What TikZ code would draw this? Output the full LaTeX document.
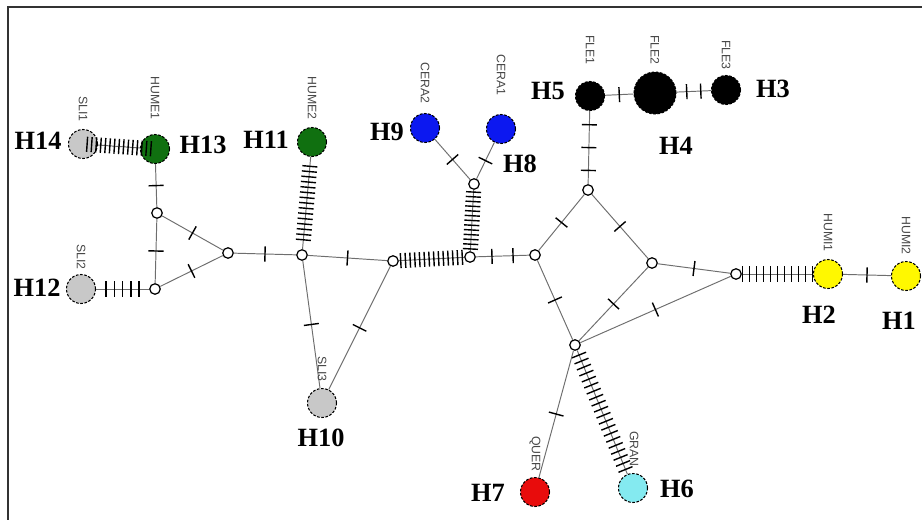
\documentclass[tikz,border=0pt]{standalone}
\usepackage{fontspec}
\setmainfont{Liberation Serif}
\setsansfont{Liberation Sans}
\usetikzlibrary{decorations.markings}
\definecolor{sligrey}{RGB}{200,200,200}
\definecolor{humegreen}{RGB}{16,112,16}
\definecolor{crablue}{RGB}{12,24,240}
\definecolor{fleblack}{RGB}{0,0,0}
\definecolor{humiyellow}{RGB}{255,248,0}
\definecolor{quered}{RGB}{232,12,12}
\definecolor{grancyan}{RGB}{132,234,240}
\definecolor{linkgrey}{RGB}{110,110,110}
\definecolor{popgrey}{RGB}{70,70,70}
\begin{document}
\begin{tikzpicture}[x=0.02cm,y=0.02cm,
    hap/.style={circle,draw=black,dash pattern=on 1.5pt off 0.9pt,line width=0.6pt,minimum size=0.58cm},
    mv/.style={circle,draw=black,fill=white,line width=0.7pt,minimum size=0.21cm},
    hname/.style={font=\fontsize{15}{15}\selectfont\bfseries},
    pop/.style={rotate=-90,anchor=east,font=\sffamily\fontsize{7}{7}\selectfont,text=popgrey},
    link/.style={draw=linkgrey,line width=0.55pt},
    tickmark/.style={draw=black,line width=0.8pt},
    mut/.style 2 args={postaction={decorate,decoration={markings,mark=at position 0.5 with {
        \foreach \k in {1,...,#1} \draw[tickmark] ({(\k-(#1+1)/2)*#2},-4.3pt) -- ++(0,8.6pt);}}}},
    one/.style={mut={1}{0pt}}]
    \tikzstyle{every node}+=[inner sep=0pt]
    \useasboundingbox (0,0) rectangle (922,-520);
    \draw [line width=0.8pt,draw=black!80] (8,-520) -- (8,-7) -- (922,-7);
    % haplotypes
    \node [hap,fill=humiyellow] (h1) at (906,-276) {};
    \node [hap,fill=humiyellow] (h2) at (828,-274) {};
    \node [hap,fill=fleblack] (h3) at (726,-90) {};
    \node [hap,fill=fleblack,minimum size=0.84cm] (h4) at (655,-93) {};
    \node [hap,fill=fleblack] (h5) at (590,-96) {};
    \node [hap,fill=grancyan] (h6) at (633,-488) {};
    \node [hap,fill=quered] (h7) at (535,-492) {};
    \node [hap,fill=crablue] (h8) at (501,-129) {};
    \node [hap,fill=crablue] (h9) at (425,-128) {};
    \node [hap,fill=sligrey] (h10) at (322,-403) {};
    \node [hap,fill=humegreen] (h11) at (312,-142) {};
    \node [hap,fill=sligrey] (h12) at (81,-289) {};
    \node [hap,fill=humegreen] (h13) at (155,-149) {};
    \node [hap,fill=sligrey] (h14) at (83,-144) {};
    % median vectors
    \node [mv] (m1) at (157,-213) {};
    \node [mv] (m2) at (155,-289) {};
    \node [mv] (m3) at (228,-253) {};
    \node [mv] (m4) at (302,-255) {};
    \node [mv] (m5) at (393,-261) {};
    \node [mv] (m6) at (470,-257) {};
    \node [mv] (m7) at (474,-184) {};
    \node [mv] (m8) at (535,-255) {};
    \node [mv] (m9) at (588,-190) {};
    \node [mv] (m10) at (652,-263) {};
    \node [mv] (m11) at (736,-274) {};
    \node [mv] (m12) at (575,-345) {};
    % links
    \draw [link,mut={15}{2.6pt}] (h14) -- (h13);
    \draw [link,one] (h13) -- (m1);
    \draw [link,one] (m1) -- (m2);
    \draw [link,one] (m1) -- (m3);
    \draw [link,one] (m2) -- (m3);
    \draw [link,mut={5}{4.7pt}] (h12) -- (m2);
    \draw [link,one] (m3) -- (m4);
    \draw [link,mut={15}{3pt}] (m4) -- (h11);
    \draw [link,one] (m4) -- (m5);
    \draw [link,one] (m4) -- (h10);
    \draw [link,one] (m5) -- (h10);
    \draw [link,mut={14}{2.7pt}] (m5) -- (m6);
    \draw [link,mut={13}{2.7pt}] (m6) -- (m7);
    \draw [link,one] (m7) -- (h9);
    \draw [link,one] (m7) -- (h8);
    \draw [link,mut={2}{12pt}] (m6) -- (m8);
    \draw [link,one] (m8) -- (m9);
    \draw [link,mut={3}{13pt}] (m9) -- (h5);
    \draw [link,one] (h5) -- (h4);
    \draw [link,mut={2}{8pt}] (h4) -- (h3);
    \draw [link,one] (m9) -- (m10);
    \draw [link,one] (m8) -- (m12);
    \draw [link,one] (m10) -- (m12);
    \draw [link,one] (m10) -- (m11);
    \draw [link,one] (m12) -- (m11);
    \draw [link,mut={11}{4pt}] (m11) -- (h2);
    \draw [link,one] (h2) -- (h1);
    \draw [link,one] (m12) -- (h7);
    \draw [link,mut={20}{3.7pt}] (m12) -- (h6);
    % population names
    \node [pop] (sli1) at (83,-122) {SLI1};
    \node [pop] (hume1) at (155,-120) {HUME1};
    \node [pop] (hume2) at (312,-120) {HUME2};
    \node [pop] (sli2) at (81,-270) {SLI2};
    \node [pop] (cera2) at (425,-104) {CERA2};
    \node [pop] (cera1) at (501,-96) {CERA1};
    \node [pop] (fle1) at (590,-65) {FLE1};
    \node [pop] (fle2) at (655,-65) {FLE2};
    \node [pop] (fle3) at (726,-70) {FLE3};
    \node [pop] (humi1) at (828,-252) {HUMI1};
    \node [pop] (humi2) at (906,-255) {HUMI2};
    \node [pop] (sli3) at (322,-382) {SLI3};
    \node [pop] (quer) at (535,-472) {QUER};
    \node [pop] (gran) at (634,-467) {GRAN};
    % haplotype names
    \node [hname] (t1) at (899,-321) {H1};
    \node [hname] (t2) at (819,-315) {H2};
    \node [hname] (t3) at (773,-89) {H3};
    \node [hname] (t4) at (676,-146) {H4};
    \node [hname] (t5) at (548,-91) {H5};
    \node [hname] (t6) at (677,-489) {H6};
    \node [hname] (t7) at (488,-493) {H7};
    \node [hname] (t8) at (520,-164) {H8};
    \node [hname] (t9) at (387,-132) {H9};
    \node [hname] (t10) at (321,-438) {H10};
    \node [hname] (t11) at (266,-140) {H11};
    \node [hname] (t12) at (37,-288) {H12};
    \node [hname] (t13) at (203,-145) {H13};
    \node [hname] (t14) at (38,-141) {H14};
\end{tikzpicture}
\end{document}
